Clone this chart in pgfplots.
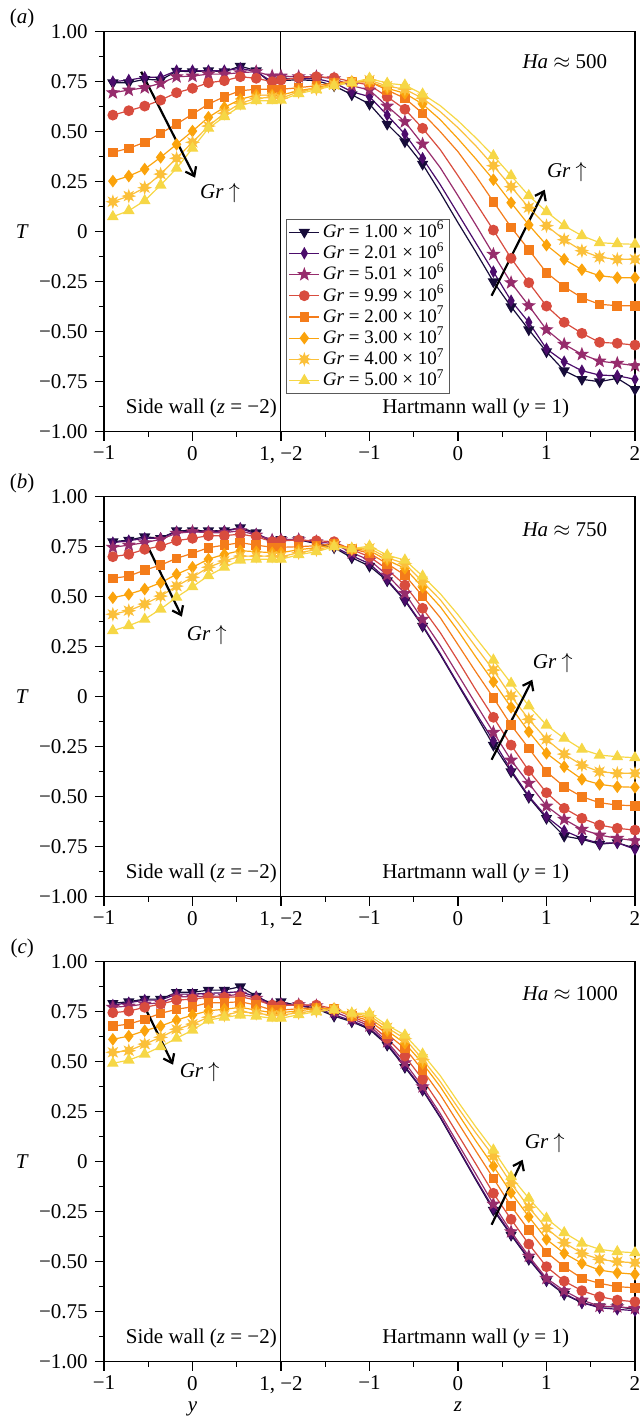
\documentclass[border=0pt]{standalone}
\usepackage{fontspec}
\setmainfont{Liberation Serif}
\usepackage{pgfplots}
\usepackage{pgfplotstable}
\pgfplotsset{compat=1.18}
\usetikzlibrary{arrows.meta}

\definecolor{c1}{HTML}{170C3A}
\definecolor{c2}{HTML}{4B0C6B}
\definecolor{c3}{HTML}{962C6C}
\definecolor{c4}{HTML}{D84C3E}
\definecolor{c5}{HTML}{F47C1A}
\definecolor{c6}{HTML}{FBA30C}
\definecolor{c7}{HTML}{FBC03A}
\definecolor{c8}{HTML}{F6D746}

% filled 5-point star
\pgfdeclareplotmark{fstar}{%
  \pgfpathmoveto{\pgfpointpolar{90}{1.2\pgfplotmarksize}}%
  \pgfpathlineto{\pgfpointpolar{126}{0.5\pgfplotmarksize}}%
  \pgfpathlineto{\pgfpointpolar{162}{1.2\pgfplotmarksize}}%
  \pgfpathlineto{\pgfpointpolar{198}{0.5\pgfplotmarksize}}%
  \pgfpathlineto{\pgfpointpolar{234}{1.2\pgfplotmarksize}}%
  \pgfpathlineto{\pgfpointpolar{270}{0.5\pgfplotmarksize}}%
  \pgfpathlineto{\pgfpointpolar{306}{1.2\pgfplotmarksize}}%
  \pgfpathlineto{\pgfpointpolar{342}{0.5\pgfplotmarksize}}%
  \pgfpathlineto{\pgfpointpolar{18}{1.2\pgfplotmarksize}}%
  \pgfpathlineto{\pgfpointpolar{54}{0.5\pgfplotmarksize}}%
  \pgfpathclose\pgfusepathqfillstroke}
% filled 8-point burst
\pgfdeclareplotmark{burst}{%
  \pgfpathmoveto{\pgfpointpolar{0}{1.15\pgfplotmarksize}}%
  \pgfpathlineto{\pgfpointpolar{22.5}{0.55\pgfplotmarksize}}%
  \pgfpathlineto{\pgfpointpolar{45}{1.15\pgfplotmarksize}}%
  \pgfpathlineto{\pgfpointpolar{67.5}{0.55\pgfplotmarksize}}%
  \pgfpathlineto{\pgfpointpolar{90}{1.15\pgfplotmarksize}}%
  \pgfpathlineto{\pgfpointpolar{112.5}{0.55\pgfplotmarksize}}%
  \pgfpathlineto{\pgfpointpolar{135}{1.15\pgfplotmarksize}}%
  \pgfpathlineto{\pgfpointpolar{157.5}{0.55\pgfplotmarksize}}%
  \pgfpathlineto{\pgfpointpolar{180}{1.15\pgfplotmarksize}}%
  \pgfpathlineto{\pgfpointpolar{202.5}{0.55\pgfplotmarksize}}%
  \pgfpathlineto{\pgfpointpolar{225}{1.15\pgfplotmarksize}}%
  \pgfpathlineto{\pgfpointpolar{247.5}{0.55\pgfplotmarksize}}%
  \pgfpathlineto{\pgfpointpolar{270}{1.15\pgfplotmarksize}}%
  \pgfpathlineto{\pgfpointpolar{292.5}{0.55\pgfplotmarksize}}%
  \pgfpathlineto{\pgfpointpolar{315}{1.15\pgfplotmarksize}}%
  \pgfpathlineto{\pgfpointpolar{337.5}{0.55\pgfplotmarksize}}%
  \pgfpathclose\pgfusepathqfillstroke}

% s = y+1 on the side wall (0..2), s = z+4 on the Hartmann wall (2..6)
\pgfplotstableread{
s    T1     T2     T3     T4     T5     T6     T7     T8
0.10 0.745  0.750  0.695  0.583  0.397  0.253  0.150  0.075
0.28 0.745  0.758  0.708  0.605  0.417  0.278  0.178  0.105
0.46 0.762  0.772  0.720  0.628  0.447  0.313  0.220  0.155
0.64 0.758  0.772  0.742  0.658  0.492  0.372  0.288  0.233
0.82 0.803  0.805  0.775  0.695  0.538  0.437  0.367  0.317
1.00 0.800  0.805  0.778  0.717  0.588  0.503  0.447  0.417
1.18 0.805  0.805  0.788  0.745  0.638  0.572  0.528  0.517
1.36 0.800  0.805  0.788  0.755  0.675  0.622  0.592  0.575
1.54 0.828  0.817  0.795  0.775  0.705  0.662  0.642  0.628
1.72 0.805  0.800  0.800  0.767  0.712  0.683  0.667  0.655
1.90 0.738  0.750  0.778  0.750  0.712  0.683  0.672  0.655
2.00 0.755  0.767  0.778  0.758  0.712  0.683  0.667  0.658
2.20 0.760  0.765  0.775  0.770  0.720  0.705  0.700  0.690
2.40 0.755  0.765  0.775  0.775  0.730  0.720  0.715  0.710
2.60 0.730  0.745  0.765  0.770  0.745  0.740  0.735  0.730
2.80 0.685  0.700  0.730  0.750  0.750  0.750  0.748  0.745
3.00 0.638  0.675  0.708  0.733  0.750  0.750  0.758  0.767
3.20 0.538  0.583  0.628  0.675  0.708  0.717  0.728  0.742
3.40 0.450  0.488  0.550  0.612  0.667  0.692  0.712  0.733
3.60 0.338  0.367  0.438  0.517  0.592  0.638  0.667  0.688
3.80 0.195  0.235  0.320  0.410  0.500  0.560  0.600  0.630
4.00 0.045  0.090  0.180  0.280  0.400  0.465  0.520  0.555
4.20 -0.100 -0.055 0.035  0.145  0.280  0.365  0.430  0.470
4.40 -0.250 -0.200 -0.113 0.008  0.150  0.260  0.330  0.380
4.60 -0.375 -0.345 -0.255 -0.133 0.022  0.145  0.225  0.280
4.80 -0.490 -0.453 -0.370 -0.255 -0.090 0.034  0.120  0.180
5.00 -0.600 -0.586 -0.490 -0.372 -0.205 -0.067 0.030  0.100
5.20 -0.695 -0.650 -0.563 -0.453 -0.275 -0.138 -0.040 0.030
5.40 -0.738 -0.695 -0.613 -0.508 -0.330 -0.190 -0.095 -0.020
5.60 -0.750 -0.717 -0.647 -0.553 -0.363 -0.220 -0.128 -0.055
5.80 -0.733 -0.720 -0.658 -0.558 -0.370 -0.230 -0.138 -0.060
6.00 -0.788 -0.738 -0.670 -0.567 -0.370 -0.230 -0.138 -0.063
}\dataA

\pgfplotstableread{
s    T1     T2     T3     T4     T5     T6     T7     T8
0.10 0.775  0.770  0.747  0.700  0.592  0.495  0.412  0.330
0.28 0.783  0.780  0.758  0.712  0.603  0.512  0.430  0.355
0.46 0.800  0.792  0.770  0.737  0.633  0.538  0.463  0.387
0.64 0.792  0.792  0.787  0.753  0.658  0.570  0.503  0.438
0.82 0.830  0.825  0.817  0.780  0.692  0.612  0.553  0.497
1.00 0.830  0.825  0.825  0.792  0.717  0.647  0.597  0.550
1.18 0.830  0.825  0.820  0.805  0.745  0.688  0.647  0.605
1.36 0.830  0.828  0.820  0.805  0.758  0.712  0.678  0.647
1.54 0.845  0.842  0.830  0.813  0.770  0.730  0.703  0.683
1.72 0.820  0.813  0.808  0.800  0.758  0.725  0.703  0.687
1.90 0.770  0.783  0.783  0.775  0.747  0.720  0.703  0.687
2.00 0.787  0.785  0.785  0.780  0.747  0.720  0.700  0.687
2.20 0.785  0.785  0.785  0.783  0.750  0.735  0.720  0.710
2.40 0.765  0.770  0.775  0.780  0.755  0.745  0.735  0.725
2.60 0.745  0.750  0.765  0.775  0.765  0.760  0.755  0.750
2.80 0.695  0.705  0.720  0.735  0.740  0.740  0.740  0.740
3.00 0.653  0.665  0.683  0.700  0.717  0.730  0.742  0.753
3.20 0.580  0.585  0.608  0.637  0.665  0.683  0.695  0.708
3.40 0.480  0.485  0.517  0.558  0.608  0.642  0.665  0.683
3.60 0.353  0.358  0.387  0.442  0.503  0.547  0.575  0.603
3.80 0.210  0.215  0.255  0.320  0.395  0.450  0.485  0.515
4.00 0.060  0.065  0.110  0.180  0.260  0.330  0.370  0.410
4.20 -0.090 -0.080 -0.035 0.035  0.125  0.200  0.250  0.295
4.40 -0.242 -0.220 -0.178 -0.103 -0.005 0.075  0.133  0.183
4.60 -0.375 -0.367 -0.317 -0.242 -0.142 -0.053 0.003  0.067
4.80 -0.503 -0.497 -0.433 -0.370 -0.258 -0.175 -0.113 -0.046
5.00 -0.608 -0.600 -0.547 -0.480 -0.375 -0.283 -0.213 -0.142
5.20 -0.697 -0.670 -0.613 -0.558 -0.450 -0.350 -0.287 -0.208
5.40 -0.713 -0.708 -0.663 -0.608 -0.500 -0.413 -0.342 -0.263
5.60 -0.737 -0.733 -0.692 -0.642 -0.530 -0.438 -0.375 -0.292
5.80 -0.730 -0.730 -0.708 -0.658 -0.542 -0.450 -0.383 -0.300
6.00 -0.758 -0.763 -0.720 -0.667 -0.545 -0.453 -0.383 -0.305
}\dataB

\pgfplotstableread{
s    T1     T2     T3     T4     T5     T6     T7     T8
0.10 0.792  0.783  0.772  0.745  0.678  0.612  0.547  0.492
0.28 0.800  0.795  0.778  0.753  0.688  0.628  0.555  0.508
0.46 0.813  0.808  0.788  0.772  0.712  0.655  0.588  0.538
0.64 0.813  0.808  0.795  0.788  0.742  0.678  0.622  0.575
0.82 0.847  0.838  0.825  0.808  0.762  0.708  0.662  0.617
1.00 0.847  0.838  0.825  0.813  0.775  0.733  0.688  0.658
1.18 0.858  0.842  0.828  0.822  0.795  0.755  0.722  0.708
1.36 0.858  0.845  0.828  0.822  0.795  0.762  0.733  0.722
1.54 0.875  0.850  0.838  0.825  0.800  0.772  0.750  0.733
1.72 0.828  0.825  0.817  0.808  0.783  0.758  0.742  0.728
1.90 0.788  0.788  0.783  0.783  0.758  0.745  0.733  0.717
2.00 0.800  0.790  0.785  0.780  0.758  0.745  0.733  0.717
2.20 0.780  0.780  0.785  0.785  0.765  0.755  0.745  0.735
2.40 0.765  0.770  0.780  0.783  0.770  0.765  0.755  0.750
2.60 0.728  0.735  0.750  0.765  0.765  0.765  0.762  0.760
2.80 0.700  0.705  0.715  0.725  0.730  0.735  0.740  0.742
3.00 0.662  0.668  0.680  0.690  0.705  0.718  0.730  0.742
3.20 0.583  0.590  0.600  0.617  0.638  0.655  0.670  0.683
3.40 0.472  0.478  0.495  0.528  0.567  0.592  0.615  0.633
3.60 0.358  0.362  0.375  0.412  0.458  0.492  0.512  0.538
3.80 0.220  0.225  0.240  0.280  0.335  0.375  0.400  0.430
4.00 0.065  0.070  0.090  0.135  0.195  0.240  0.270  0.300
4.20 -0.090 -0.085 -0.060 -0.010 0.055  0.105  0.145  0.175
4.40 -0.242 -0.233 -0.212 -0.158 -0.083 -0.022 0.028  0.058
4.60 -0.367 -0.362 -0.350 -0.288 -0.222 -0.155 -0.108 -0.075
4.80 -0.488 -0.483 -0.472 -0.412 -0.342 -0.275 -0.228 -0.183
5.00 -0.595 -0.592 -0.583 -0.525 -0.453 -0.388 -0.333 -0.283
5.20 -0.663 -0.658 -0.645 -0.597 -0.525 -0.458 -0.405 -0.355
5.40 -0.705 -0.705 -0.692 -0.645 -0.583 -0.508 -0.458 -0.408
5.60 -0.725 -0.730 -0.722 -0.675 -0.608 -0.542 -0.488 -0.438
5.80 -0.725 -0.738 -0.725 -0.692 -0.625 -0.555 -0.500 -0.450
6.00 -0.738 -0.745 -0.733 -0.700 -0.630 -0.563 -0.505 -0.455
}\dataC

\tikzset{arr/.style={line width=1.1pt, -{Straight Barb[length=4pt,width=6pt]}}}

\pgfplotsset{
  panel/.style={
    scale only axis, width=265.5pt, height=200pt,
    anchor=north west,
    xmin=0, xmax=6, ymin=-1, ymax=1,
    xtick={0,1,2,3,4,5,6},
    xticklabels={−1,0,{1, −2},−1,0,1,2},
    ytick={-1,-0.75,-0.5,-0.25,0,0.25,0.5,0.75,1},
    yticklabels={−1.00,−0.75,−0.50,−0.25,0,0.25,0.50,0.75,1.00},
    xticklabel style={inner ysep=0.5pt, yshift=-2pt},
    minor x tick num=1, minor y tick num=1,
    tick align=outside, xtick pos=bottom, ytick pos=left,
    major tick length=4.5pt, minor tick length=2.6pt,
    tick style={black, line width=0.6pt},
    axis line style={line width=0.6pt},
    clip=false,
    ylabel={\textit{T}},
    ylabel style={rotate=-90, at={(axis description cs:-0.154,0.5)}, anchor=center},
    every axis plot/.append style={line width=0.6pt},
    legend image code/.code={\draw[mark indices={2}] plot coordinates {(0pt,0pt)(7.5pt,0pt)(15pt,0pt)};},
  },
  mk/.style={mark indices={1,2,3,4,5,6,7,8,9,10,11,12,13,14,15,16,17,18,19,20,24,25,26,27,28,29,30,31,32}},
  g1/.style={mk, color=c1, mark=triangle*, mark size=2.7pt, mark options={solid, rotate=180, fill=c1}},
  g2/.style={mk, color=c2, mark=diamond*, mark size=2.6pt, mark options={solid, xscale=0.75, fill=c2}},
  g3/.style={mk, color=c3, mark=fstar, mark size=2.4pt, mark options={solid, fill=c3}},
  g4/.style={mk, color=c4, mark=*, mark size=2.4pt, mark options={solid, fill=c4}},
  g5/.style={mk, color=c5, mark=square*, mark size=2.1pt, mark options={solid, fill=c5}},
  g6/.style={mk, color=c6, mark=diamond*, mark size=2.7pt, mark options={solid, fill=c6}},
  g7/.style={mk, color=c7, mark=burst, mark size=2.4pt, mark options={solid, fill=c7}},
  g8/.style={mk, color=c8, mark=triangle*, mark size=2.8pt, mark options={solid, fill=c8}},
}

\begin{document}
\fontsize{10.5}{12.6}\selectfont
\begin{tikzpicture}
\useasboundingbox (-52pt,15.85pt) rectangle (268pt,-693.65pt);

% (a)
\begin{axis}[panel, at={(0pt,0pt)},
  legend style={at={(0.343,0.532)}, anchor=north west, draw=black!65, line width=0.6pt,
    font=\fontsize{9.5}{11}\selectfont, inner xsep=1pt, inner ysep=1pt,
    nodes={inner xsep=1.5pt, inner ysep=0.6pt, text height=7.4pt, text depth=2pt}, cells={anchor=west}}]
\addplot[g1] table[x=s,y=T1] {\dataA}; \addlegendentry{\textit{Gr} = 1.00 × 10\textsuperscript{6}}
\addplot[g2] table[x=s,y=T2] {\dataA}; \addlegendentry{\textit{Gr} = 2.01 × 10\textsuperscript{6}}
\addplot[g3] table[x=s,y=T3] {\dataA}; \addlegendentry{\textit{Gr} = 5.01 × 10\textsuperscript{6}}
\addplot[g4] table[x=s,y=T4] {\dataA}; \addlegendentry{\textit{Gr} = 9.99 × 10\textsuperscript{6}}
\addplot[g5] table[x=s,y=T5] {\dataA}; \addlegendentry{\textit{Gr} = 2.00 × 10\textsuperscript{7}}
\addplot[g6] table[x=s,y=T6] {\dataA}; \addlegendentry{\textit{Gr} = 3.00 × 10\textsuperscript{7}}
\addplot[g7] table[x=s,y=T7] {\dataA}; \addlegendentry{\textit{Gr} = 4.00 × 10\textsuperscript{7}}
\addplot[g8] table[x=s,y=T8] {\dataA}; \addlegendentry{\textit{Gr} = 5.00 × 10\textsuperscript{7}}
\draw[line width=0.5pt] (axis cs:2,-1) -- (axis cs:2,1);
\node at (rel axis cs:-0.154,1.034) {(\textit{a})};
\node[anchor=east] at (axis cs:5.77,0.85) {\textit{Ha} $\approx$ 500};
\node at (axis cs:1.10,-0.885) {Side wall (\textit{z} = −2)};
\node at (axis cs:4.20,-0.885) {Hartmann wall (\textit{y} = 1)};
\draw[arr] (axis cs:0.42,0.80) -- (axis cs:1.03,0.27);
\node at (axis cs:1.31,0.195) {\textit{Gr} $\uparrow$};
\draw[arr] (axis cs:4.38,-0.32) -- (axis cs:4.98,0.21);
\node at (axis cs:5.23,0.30) {\textit{Gr} $\uparrow$};
\end{axis}

% (b)
\begin{axis}[panel, at={(0pt,-232.5pt)}]
\addplot[g1] table[x=s,y=T1] {\dataB};
\addplot[g2] table[x=s,y=T2] {\dataB};
\addplot[g3] table[x=s,y=T3] {\dataB};
\addplot[g4] table[x=s,y=T4] {\dataB};
\addplot[g5] table[x=s,y=T5] {\dataB};
\addplot[g6] table[x=s,y=T6] {\dataB};
\addplot[g7] table[x=s,y=T7] {\dataB};
\addplot[g8] table[x=s,y=T8] {\dataB};
\draw[line width=0.5pt] (axis cs:2,-1) -- (axis cs:2,1);
\node at (rel axis cs:-0.154,1.034) {(\textit{b})};
\node[anchor=east] at (axis cs:5.77,0.835) {\textit{Ha} $\approx$ 750};
\node at (axis cs:1.10,-0.885) {Side wall (\textit{z} = −2)};
\node at (axis cs:4.20,-0.885) {Hartmann wall (\textit{y} = 1)};
\draw[arr] (axis cs:0.43,0.81) -- (axis cs:0.88,0.40);
\node at (axis cs:1.16,0.31) {\textit{Gr} $\uparrow$};
\draw[arr] (axis cs:4.38,-0.315) -- (axis cs:4.84,0.085);
\node at (axis cs:5.07,0.17) {\textit{Gr} $\uparrow$};
\end{axis}

% (c)
\begin{axis}[panel, at={(0pt,-465pt)}]
\addplot[g1] table[x=s,y=T1] {\dataC};
\addplot[g2] table[x=s,y=T2] {\dataC};
\addplot[g3] table[x=s,y=T3] {\dataC};
\addplot[g4] table[x=s,y=T4] {\dataC};
\addplot[g5] table[x=s,y=T5] {\dataC};
\addplot[g6] table[x=s,y=T6] {\dataC};
\addplot[g7] table[x=s,y=T7] {\dataC};
\addplot[g8] table[x=s,y=T8] {\dataC};
\draw[line width=0.5pt] (axis cs:2,-1) -- (axis cs:2,1);
\node at (rel axis cs:-0.154,1.034) {(\textit{c})};
\node[anchor=east] at (axis cs:5.89,0.84) {\textit{Ha} $\approx$ 1000};
\node at (axis cs:1.10,-0.885) {Side wall (\textit{z} = −2)};
\node at (axis cs:4.20,-0.885) {Hartmann wall (\textit{y} = 1)};
\draw[arr] (axis cs:0.43,0.80) -- (axis cs:0.78,0.485);
\node at (axis cs:1.08,0.45) {\textit{Gr} $\uparrow$};
\draw[arr] (axis cs:4.38,-0.315) -- (axis cs:4.73,0.01);
\node at (axis cs:4.98,0.095) {\textit{Gr} $\uparrow$};
\node[anchor=base, inner sep=0.3pt] at (rel axis cs:0.1667,-0.1235) {\textit{y}};
\node[anchor=base, inner sep=0.3pt] at (rel axis cs:0.6667,-0.1235) {\textit{z}};
\end{axis}
\end{tikzpicture}
\end{document}
